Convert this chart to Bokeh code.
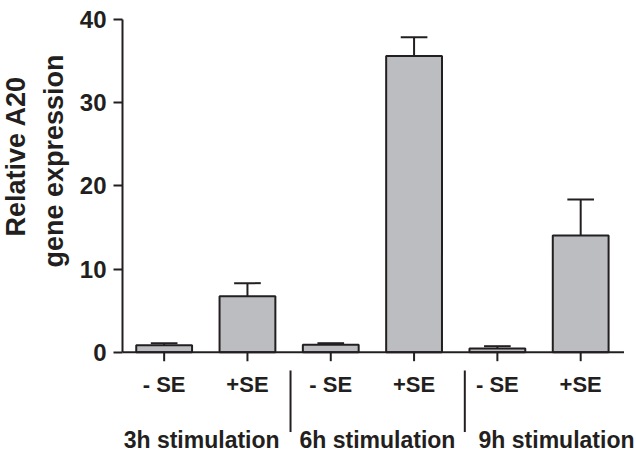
from bokeh.plotting import figure
from bokeh.models import FixedTicker, Range1d, Title
from bokeh.core.properties import value
from bokeh.embed import file_html
from bokeh.resources import INLINE
import math

# ---- data ----
conditions = ["- SE", "+SE", "- SE", "+SE", "- SE", "+SE"]
groups = ["3h stimulation", "6h stimulation", "9h stimulation"]
means = [0.84, 6.73, 0.89, 35.6, 0.44, 14.03]
sems = [0.24, 1.57, 0.19, 2.27, 0.28, 4.33]
y_ticks = [0, 10, 20, 30, 40]
y_label_lines = ["Relative A20", "gene expression"]

# ---- layout constants ----
FONT = value("Liberation Sans")
INK = "#231f20"
BAR_FILL = "#bcbdc0"
positions = list(range(len(conditions)))
group_label_x = [0.45, 2.56, 4.71]
separator_x = [1.517, 3.609]
y_label_offsets = [217, 186]
y_label_standoffs = [-4, 16]
cap_half = 0.16

p = figure(width=636, height=453, output_backend="svg", toolbar_location=None,
           x_range=Range1d(-0.5, 5.67), y_range=Range1d(-12.18, 41.08),
           min_border_left=122, min_border_right=0, min_border_top=10,
           min_border_bottom=0)
p.xaxis.visible = False
p.grid.visible = False
p.outline_line_color = None
p.background_fill_color = "white"

# y axis
ya = p.yaxis[0]
ya.ticker = FixedTicker(ticks=y_ticks)
ya.bounds = (0, 40)
ya.axis_line_width = 2
ya.axis_line_color = INK
ya.major_tick_line_width = 2
ya.major_tick_line_color = INK
ya.major_tick_out = 9
ya.major_tick_in = 0
ya.minor_tick_line_color = None
ya.major_label_standoff = 7
ya.major_label_text_font = "Liberation Sans"
ya.major_label_text_font_style = "bold"
ya.major_label_text_font_size = "24px"
ya.major_label_text_color = INK

# y axis title (two lines), inner line first
for txt, off, so in reversed(list(zip(y_label_lines, y_label_offsets, y_label_standoffs))):
    p.add_layout(Title(text=txt, align="left", offset=off, standoff=so,
                       text_font="Liberation Sans", text_font_style="bold",
                       text_font_size="27px", text_color=INK), "left")

# bars
p.vbar(x=positions, top=means, bottom=0, width=0.67,
       fill_color=BAR_FILL, line_color=INK, line_width=2)

# upper error bars
uppers = [m + s for m, s in zip(means, sems)]
p.segment(x0=positions, y0=means, x1=positions, y1=uppers,
          line_color=INK, line_width=2)
p.segment(x0=[x - cap_half for x in positions], y0=uppers,
          x1=[x + cap_half for x in positions], y1=uppers,
          line_color=INK, line_width=2)

# x axis line and ticks
p.segment(x0=[-0.5], y0=[0], x1=[5.52], y1=[0], line_color=INK, line_width=2)
p.ray(x=positions, y=[0] * len(positions), length=9, length_units="screen",
      angle=-math.pi / 2, line_color=INK, line_width=2)

# condition labels
p.text(x=positions, y=[-3.85] * len(positions), text=conditions,
       text_align="center", text_baseline="alphabetic",
       text_font=FONT, text_font_style="bold", text_font_size="22px",
       text_color=INK)

# group separators
p.segment(x0=separator_x, y0=[-2.2, -2.2], x1=separator_x, y1=[-9.6, -9.6],
          line_color=INK, line_width=2)

# group labels
p.text(x=group_label_x, y=[-10.55] * 3, text=groups,
       text_align="center", text_baseline="alphabetic",
       text_font=FONT, text_font_style="bold", text_font_size="23px",
       text_color=INK)

open("out.html", "w").write(file_html(p, INLINE))
